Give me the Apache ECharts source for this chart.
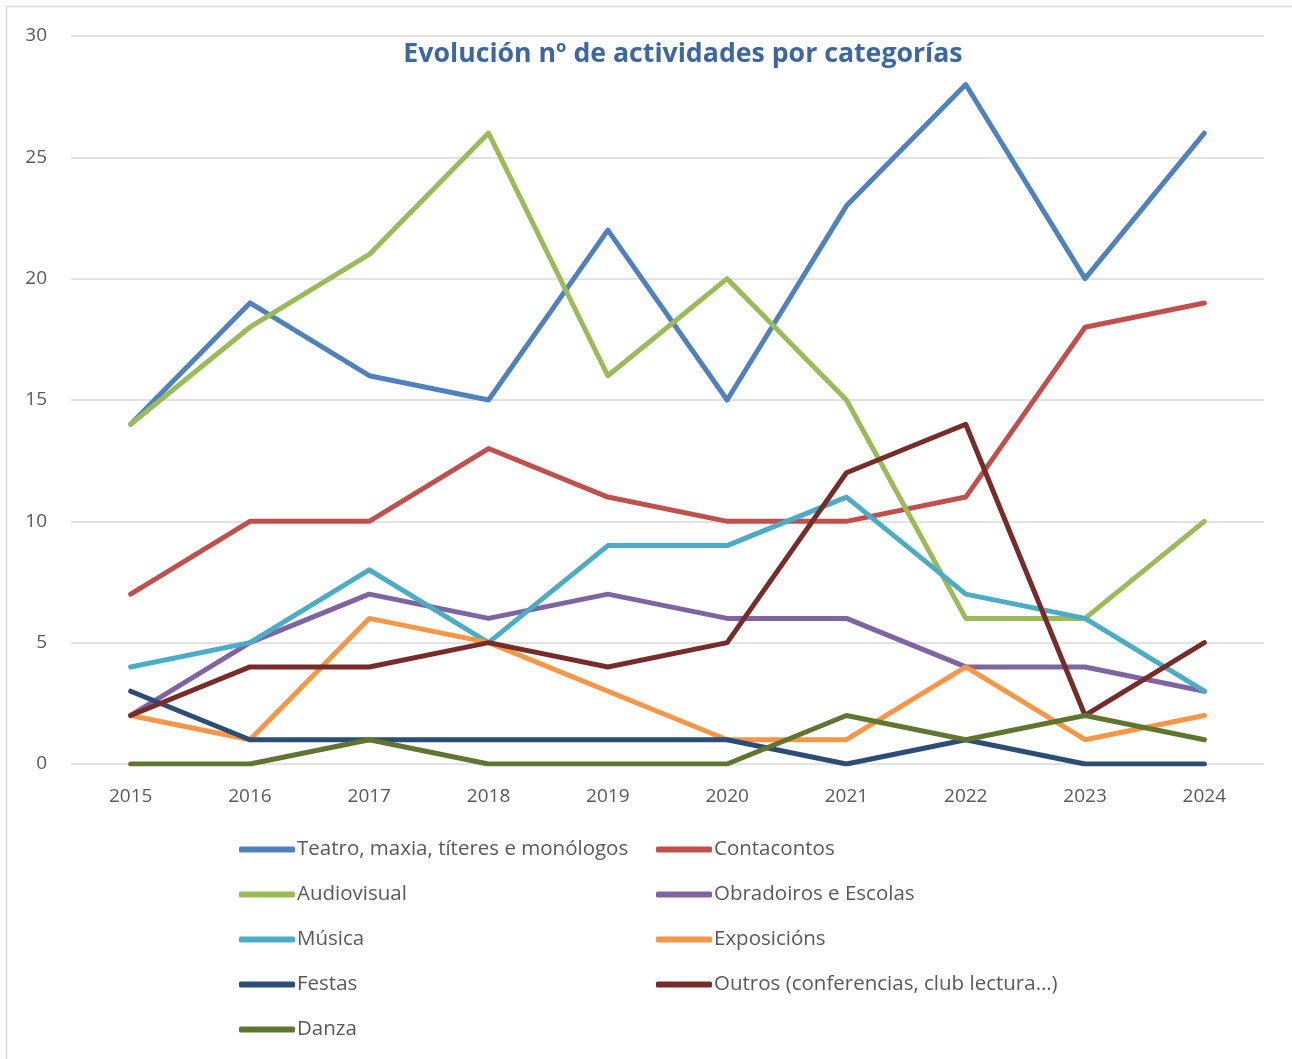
<!DOCTYPE html>
<html>
<head>
<meta charset="utf-8">
<script src="https://cdn.jsdelivr.net/npm/echarts@6/dist/echarts.min.js"></script>
<style>
  html, body { margin: 0; padding: 0; background: #fff; }
  #chart { width: 1292px; height: 1059px; }
</style>
</head>
<body>
<div id="chart"></div>
<script>
// Evolución nº de actividades por categorías
const years = ['2015', '2016', '2017', '2018', '2019', '2020', '2021', '2022', '2023', '2024']
const teatro = [14, 19, 16, 15, 22, 15, 23, 28, 20, 26]
const contacontos = [7, 10, 10, 13, 11, 10, 10, 11, 18, 19]
const audiovisual = [14, 18, 21, 26, 16, 20, 15, 6, 6, 10]
const obradoiros = [2, 5, 7, 6, 7, 6, 6, 4, 4, 3]
const musica = [4, 5, 8, 5, 9, 9, 11, 7, 6, 3]
const exposicions = [2, 1, 6, 5, 3, 1, 1, 4, 1, 2]
const festas = [3, 1, 1, 1, 1, 1, 0, 1, 0, 0]
const outros = [2, 4, 4, 5, 4, 5, 12, 14, 2, 5]
const danza = [0, 0, 1, 0, 0, 0, 2, 1, 2, 1]

const seriesDefs = [
  { name: 'Teatro, maxia, títeres e monólogos', data: teatro, color: '#4F81BD' },
  { name: 'Contacontos', data: contacontos, color: '#C0504D' },
  { name: 'Audiovisual', data: audiovisual, color: '#9BBB59' },
  { name: 'Obradoiros e Escolas', data: obradoiros, color: '#8064A2' },
  { name: 'Música', data: musica, color: '#4BACC6' },
  { name: 'Exposicións', data: exposicions, color: '#F79646' },
  { name: 'Festas', data: festas, color: '#2C4D75' },
  { name: 'Outros (conferencias, club lectura…)', data: outros, color: '#772C2A' },
  { name: 'Danza', data: danza, color: '#5F7530' },
]

const font = '"Open Sans", "Noto Sans", sans-serif'
const legendText = { color: '#595959', fontSize: 20.5, fontFamily: font, lineHeight: 20, padding: [0, 0, 0, -3] }
const legendBase = {
  orient: 'vertical',
  top: 834,
  icon: 'roundRect',
  itemWidth: 56,
  itemHeight: 6,
  itemGap: 24,
  textStyle: legendText,
}

const chart = echarts.init(document.getElementById('chart'))
chart.setOption({
  animation: false,
  color: seriesDefs.map(s => s.color),
  graphic: [
    {
      type: 'rect',
      shape: { x: 6.5, y: 6.5, width: 1290, height: 1060 },
      style: { fill: 'none', stroke: '#d9d9d9', lineWidth: 1.5 },
      silent: true,
    },
    {
      type: 'text',
      x: 683,
      y: 54,
      style: {
        text: 'Evolución nº de actividades por categorías',
        fill: '#3C67A2',
        font: 'bold 26.7px ' + font,
        align: 'center',
        verticalAlign: 'middle',
      },
    },
  ],
  grid: { left: 71, right: 28, top: 36, bottom: 295 },
  xAxis: {
    type: 'category',
    data: years,
    boundaryGap: true,
    axisLine: { show: false },
    axisTick: { show: false },
    axisLabel: { color: '#595959', fontSize: 19, fontFamily: font, margin: 23 },
  },
  yAxis: {
    type: 'value',
    min: 0,
    max: 30,
    interval: 5,
    axisLine: { show: false },
    axisTick: { show: false },
    axisLabel: { color: '#595959', fontSize: 19, fontFamily: font, margin: 24 },
    splitLine: { lineStyle: { color: '#d9d9d9', width: 1.5 } },
  },
  legend: [
    Object.assign({}, legendBase, {
      left: 234,
      data: [seriesDefs[0].name, seriesDefs[2].name, seriesDefs[4].name, seriesDefs[6].name, seriesDefs[8].name],
    }),
    Object.assign({}, legendBase, {
      left: 651,
      data: [seriesDefs[1].name, seriesDefs[3].name, seriesDefs[5].name, seriesDefs[7].name],
    }),
  ],
  series: seriesDefs.map(s => ({
    name: s.name,
    type: 'line',
    data: s.data,
    symbol: 'none',
    lineStyle: { width: 5, color: s.color, cap: 'round', join: 'round' },
    itemStyle: { color: s.color },
  })),
})
</script>
</body>
</html>
